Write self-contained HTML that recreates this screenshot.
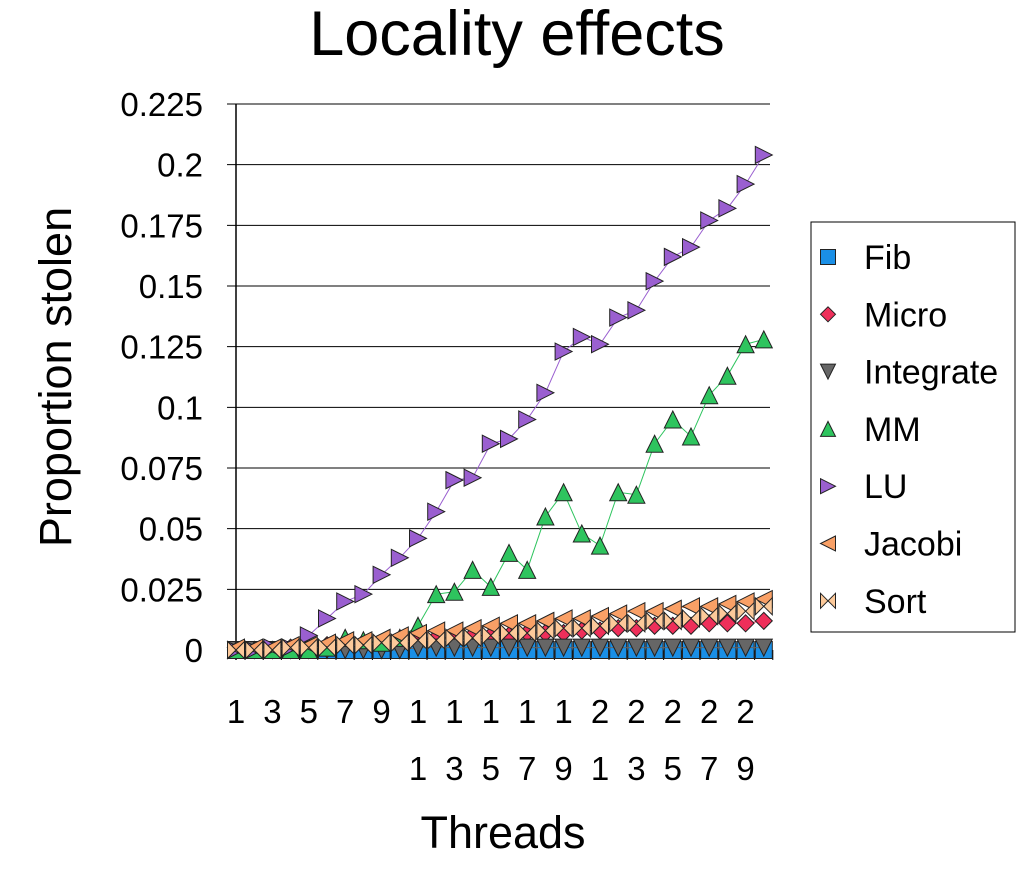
<!DOCTYPE html>
<html><head><meta charset="utf-8"><style>
body{margin:0;background:#fff;font-family:"Liberation Sans",sans-serif}
svg text{font-family:"Liberation Sans",sans-serif}
</style></head><body>
<svg id="c" width="1035" height="866" xmlns="http://www.w3.org/2000/svg">
<text x="517" y="55" font-size="63" text-anchor="middle">Locality effects</text>
<text x="503" y="848" font-size="45" text-anchor="middle">Threads</text>
<text transform="translate(71,377) rotate(-90)" font-size="45" text-anchor="middle">Proportion stolen</text>
<g id="grid"></g><g id="axes"></g><g id="series"></g>
<rect x="811" y="222" width="204" height="410" fill="#fff" stroke="#000" stroke-width="1"/>
<g id="legend"></g>
</svg>
<script>
const categories=[1,2,3,4,5,6,7,8,9,10,11,12,13,14,15,16,17,18,19,20,21,22,23,24,25,26,27,28,29,30];
const yTicks=[0,0.025,0.05,0.075,0.1,0.125,0.15,0.175,0.2,0.225];
const yTickLabels=["0","0.025","0.05","0.075","0.1","0.125","0.15","0.175","0.2","0.225"];
const seriesNames=["Fib","Micro","Integrate","MM","LU","Jacobi","Sort"];
const fib=[0,0,0,0,0,0,0,0,0,0,0,0,0,0,0,0,0,0,0,0,0,0,0,0,0,0,0,0,0,0];
const micro=[0,0,0,0.001,0.001,0.002,0.002,0.003,0.003,0.004,0.004,0.005,0.005,0.006,0.006,0.006,0.007,0.007,0.007,0.008,0.008,0.009,0.009,0.01,0.01,0.01,0.011,0.011,0.011,0.012];
const integrate=[0,0,0,0,0,0,0,0,0,0,0.001,0.001,0.001,0.001,0.001,0.001,0.001,0.001,0.001,0.001,0.001,0.001,0.001,0.001,0.001,0.001,0.001,0.001,0.001,0.001];
const mm=[0,0,0,0,0,0.001,0.005,0.004,0.003,0.005,0.01,0.023,0.024,0.033,0.026,0.04,0.033,0.055,0.065,0.048,0.043,0.065,0.064,0.085,0.095,0.088,0.105,0.113,0.126,0.128];
const lu=[0,0,0.001,0.001,0.006,0.013,0.02,0.023,0.031,0.038,0.046,0.057,0.07,0.071,0.085,0.087,0.095,0.106,0.123,0.129,0.126,0.137,0.14,0.152,0.162,0.166,0.177,0.182,0.192,0.204];
const jacobi=[0.001,0.001,0.001,0.002,0.002,0.003,0.004,0.004,0.005,0.006,0.007,0.008,0.008,0.009,0.01,0.011,0.011,0.012,0.013,0.013,0.014,0.015,0.016,0.016,0.017,0.018,0.018,0.019,0.02,0.021];
const sort=[0,0,0,0.001,0.001,0.001,0.002,0.002,0.003,0.003,0.004,0.004,0.005,0.005,0.006,0.007,0.007,0.008,0.009,0.009,0.01,0.011,0.011,0.012,0.012,0.013,0.014,0.015,0.016,0.018];
const NS="http://www.w3.org/2000/svg";
const X0=236,DX=18.2,Y0=650,YTOP=104,YMAX=0.225;
function xs(i){return X0+i*DX;}
function ys(v){return Y0-(v/YMAX)*(Y0-YTOP);}
function mk(tag,attrs,parent){const e=document.createElementNS(NS,tag);for(const k in attrs)e.setAttribute(k,attrs[k]);parent.appendChild(e);return e;}
const grid=document.getElementById('grid'),axes=document.getElementById('axes'),ser=document.getElementById('series'),leg=document.getElementById('legend');
yTicks.forEach((t,i)=>{
 const l=mk('line',{x1:227,x2:770,y1:ys(t),y2:ys(t),stroke:'#000','stroke-width':1},grid);
 
 
 const tx=mk('text',{x:203,y:ys(t)+12,'font-size':33,'text-anchor':'end'},axes);
 tx.textContent=yTickLabels[i];
 
 
});
const ax=mk('line',{x1:236,x2:236,y1:104,y2:660,stroke:'#000','stroke-width':1.5},axes);


categories.forEach((c,i)=>{
 const tk=mk('line',{x1:xs(i)+9,x2:xs(i)+9,y1:650,y2:660,stroke:'#000'},axes);
 
 
 if(i%2===0){
  const s=String(c);
  for(let k=0;k<s.length;k++){
   const tx=mk('text',{x:xs(i),y:723+k*57,'font-size':33,'text-anchor':'middle'},axes);
   tx.textContent=s[k];
   
   
  }
 }
});
const styles=[
 {d:fib,fill:'#1a8fe6',line:'#1a8fe6',shape:'square'},
 {d:micro,fill:'#ee2f5a',line:'#ee2f5a',shape:'diamond'},
 {d:integrate,fill:'#666',line:'#666',shape:'down'},
 {d:mm,fill:'#2ec45e',line:'#2ec45e',shape:'up'},
 {d:lu,fill:'#9a5fd0',line:'#9a5fd0',shape:'right'},
 {d:jacobi,fill:'#f9a066',line:'#f9a066',shape:'left'},
 {d:sort,fill:'#fcc99a',line:'#f9a066',shape:'bowtie'}];
function shape(s,x,y,r,fill,parent){
 let p;
 if(s==='square')p=`M${x-r},${y-r}h${2*r}v${2*r}h${-2*r}z`;
 else if(s==='diamond')p=`M${x},${y-r}L${x+r},${y}L${x},${y+r}L${x-r},${y}z`;
 else if(s==='down')p=`M${x-r},${y-r}L${x+r},${y-r}L${x},${y+r}z`;
 else if(s==='up')p=`M${x-r},${y+r}L${x+r},${y+r}L${x},${y-r}z`;
 else if(s==='right')p=`M${x-r},${y-r}L${x+r},${y}L${x-r},${y+r}z`;
 else if(s==='left')p=`M${x+r},${y-r}L${x-r},${y}L${x+r},${y+r}z`;
 else p=`M${x-r},${y-r}L${x+r},${y+r}L${x+r},${y-r}L${x-r},${y+r}z`;
 return mk('path',{d:p,fill:fill,stroke:'#222','stroke-width':1},parent);
}
styles.forEach((st,si)=>{
 const g=mk('g',{},ser);
 
 
 const pts=st.d.map((v,i)=>xs(i)+','+ys(v)).join(' ');
 mk('polyline',{points:pts,fill:'none',stroke:st.line,'stroke-width':1},g);
 st.d.forEach((v,i)=>{
  const m=shape(st.shape,xs(i),ys(v),8.5,st.fill,g);
  
  
 });
 const ly=257+si*57.3;
 const lm=shape(st.shape,828,ly,7.5,st.fill,leg);
 
 
 const lt=mk('text',{x:864,y:ly+12,'font-size':34},leg);
 lt.textContent=seriesNames[si];
 
 
});
</script>
</body></html>
